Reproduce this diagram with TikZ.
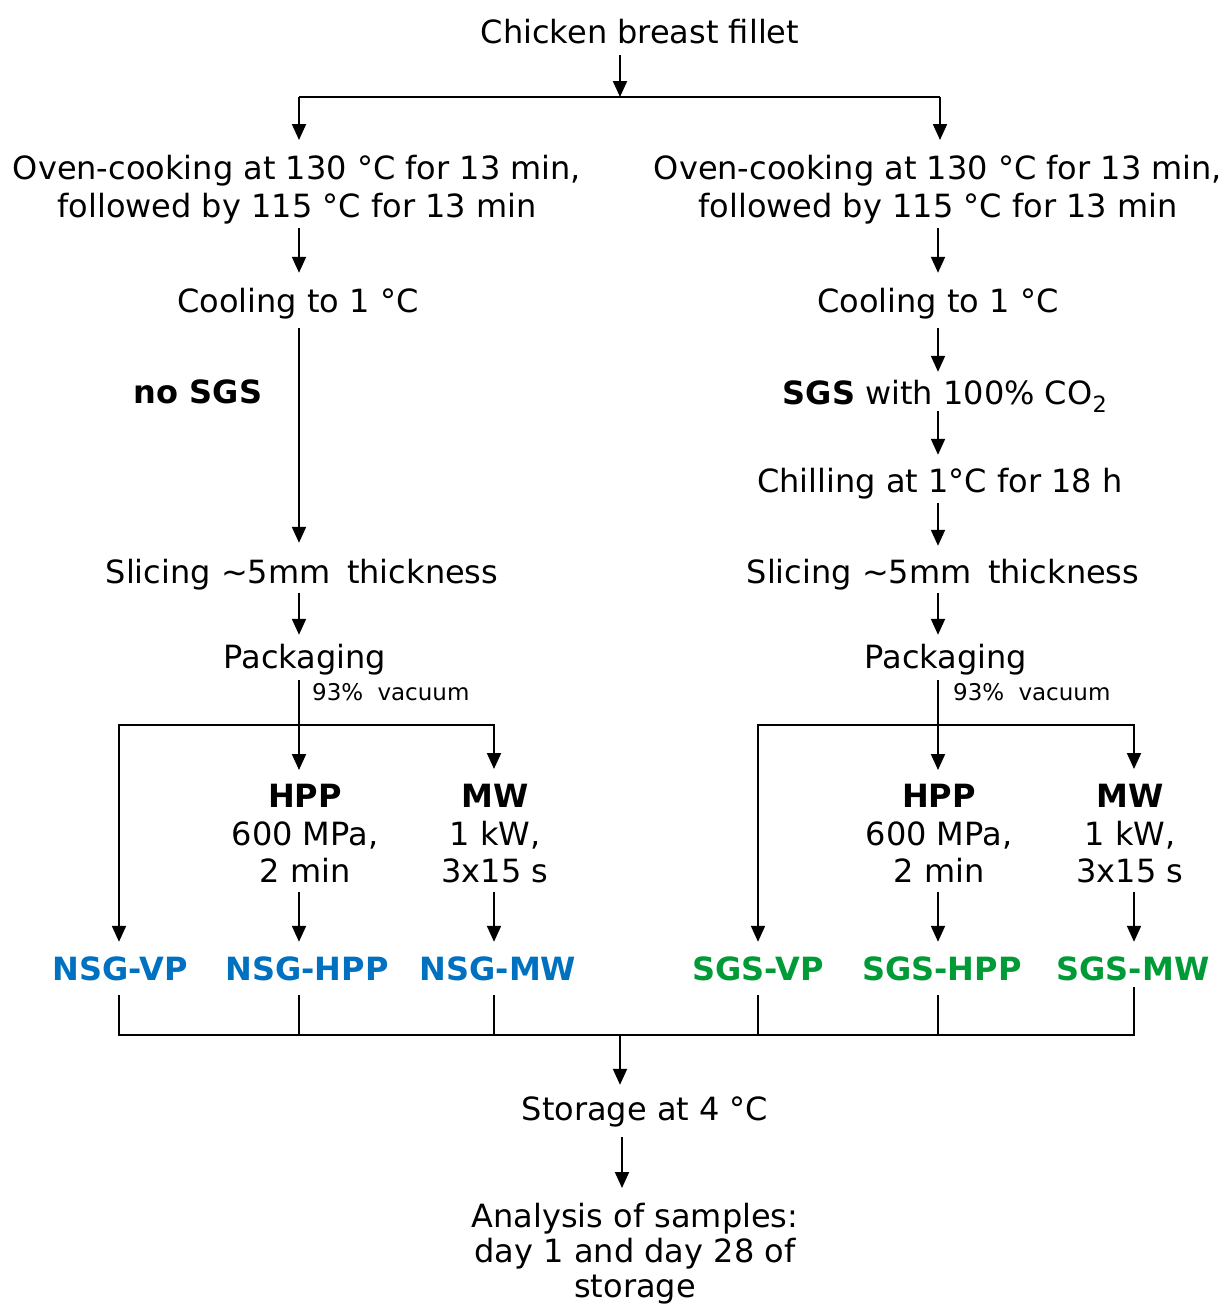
\documentclass[tikz,border=0pt]{standalone}
\usepackage{fontspec}
\setmainfont{DejaVu Sans}
\usetikzlibrary{arrows.meta}
\definecolor{nsgblue}{RGB}{0,112,192}
\definecolor{sgsgreen}{RGB}{0,155,55}
\begin{document}
\begin{tikzpicture}[x=1pt,y=-1pt,
  txt/.style={font=\fontsize{32}{38}\selectfont, inner sep=0pt, align=center},
  one/.style={txt, text height=23pt, text depth=7pt},
  multi/.style={txt, anchor=north, font=\fontsize{32}{37.5}\selectfont},
  small/.style={font=\fontsize{23}{28}\selectfont, inner sep=0pt, anchor=base west},
  lab/.style={one, font=\fontsize{32}{38}\selectfont\bfseries},
  ln/.style={line width=2pt},
  arr/.style={ln, -{Triangle[width=14pt,length=16pt]}, shorten >=14pt, shorten <=5pt},
  dblarr/.style={ln, {Triangle[width=14pt,length=16pt]}-{Triangle[width=14pt,length=16pt]}, shorten >=15pt, shorten <=15pt},
]
\useasboundingbox (0,0) rectangle (1226,1307);

% ---------- nodes ----------
\node[one] (chicken) at (640,35) {Chicken breast fillet};

\node[multi] (ovenL) at (297,155) {Oven-cooking at 130 °C for 13 min,\\followed by 115 °C for 13 min};
\node[multi] (ovenR) at (938,155) {Oven-cooking at 130 °C for 13 min,\\followed by 115 °C for 13 min};

\node[one] (coolL) at (298,304) {Cooling to 1 °C};
\node[one] (coolR) at (938,304) {Cooling to 1 °C};

\node[lab] (noSGS) at (198,395) {no SGS};
\node[one] (sgs) at (945,396) {\textbf{SGS} with 100\% CO\textsubscript{2}};
\node[one] (chill) at (940,484) {Chilling at 1°C for 18 h};

\node[one] (sliceL) at (302,575) {Slicing ∼5mm\hspace{0.2em} thickness};
\node[one] (sliceR) at (943,575) {Slicing ∼5mm\hspace{0.2em} thickness};

\node[one] (packL) at (305,660) {Packaging};
\node[one] (packR) at (946,660) {Packaging};
\node[small] (vacL) at (312,700) {93\%\hspace{0.3em} vacuum};
\node[small] (vacR) at (953,700) {93\%\hspace{0.3em} vacuum};

\node[multi] (hppL) at (305,784) {\textbf{HPP}\\600 MPa,\\2 min};
\node[multi] (mwL) at (495,784) {\textbf{MW}\\1 kW,\\3x15 s};
\node[multi] (hppR) at (939,784) {\textbf{HPP}\\600 MPa,\\2 min};
\node[multi] (mwR) at (1130,784) {\textbf{MW}\\1 kW,\\3x15 s};

\node[lab, text=nsgblue] (nsgvp) at (120,972) {NSG-VP};
\node[lab, text=nsgblue] (nsghpp) at (307,972) {NSG-HPP};
\node[lab, text=nsgblue] (nsgmw) at (498,972) {NSG-MW};
\node[lab, text=sgsgreen] (sgsvp) at (758,972) {SGS-VP};
\node[lab, text=sgsgreen] (sgshpp) at (942,972) {SGS-HPP};
\node[lab, text=sgsgreen] (sgsmw) at (1133,972) {SGS-MW};

\node[one] (storage) at (645,1112) {Storage at 4 °C};
\node[multi, font=\fontsize{32}{35}\selectfont] (analysis) at (635,1203) {Analysis of samples:\\day 1 and day 28 of\\storage};

% ---------- junction coordinates ----------
\coordinate (top) at (620,97);
\coordinate (topL) at (299,97);
\coordinate (topR) at (940,97);
\coordinate (vpL) at (119,725);
\coordinate (mwJL) at (494,725);
\coordinate (vpR) at (758,725);
\coordinate (mwJR) at (1134,725);
\coordinate (c1) at (119,1035);
\coordinate (c2) at (299,1035);
\coordinate (c3) at (494,1035);
\coordinate (c4) at (758,1035);
\coordinate (c5) at (938,1035);
\coordinate (c6) at (1134,1035);
\coordinate (cm) at (620,1035);
\coordinate (sx) at (622,1150);
\coordinate (rx) at (938,0);

% ---------- connectors ----------
\draw[arr, shorten >=0pt] (chicken.south -| top) -- (top);
\draw[ln] (topL) -- (topR);
\draw[arr, shorten <=0pt, shorten >=15pt] (topL) -- (ovenL.north -| topL);
\draw[arr, shorten <=0pt, shorten >=15pt] (topR) -- (ovenR.north -| topR);

% left branch
\draw[arr, shorten <=4pt, shorten >=16pt] (ovenL.south -| topL) -- (coolL.north -| topL);
\draw[arr, shorten <=9pt, shorten >=17pt] (coolL.south -| topL) -- (sliceL.north -| topL);
\draw[arr, shorten <=3pt, shorten >=10pt] (sliceL.south -| topL) -- (packL.north -| topL);
\draw[arr, shorten <=5pt, shorten >=14pt] (packL.south -| topL) -- (hppL.north -| topL);
\draw[dblarr] (nsgvp.north -| vpL) -- (vpL) -- (mwJL) -- (mwL.north -| mwJL);
\draw[arr, shorten <=9pt, shorten >=15pt] (hppL.south -| topL) -- (nsghpp.north -| topL);
\draw[arr, shorten <=9pt, shorten >=15pt] (mwL.south -| mwJL) -- (nsgmw.north -| mwJL);

% right branch
\draw[arr, shorten <=4pt, shorten >=16pt] (ovenR.south -| rx) -- (coolR.north -| rx);
\draw[arr, shorten <=9pt, shorten >=9pt] (coolR.south -| rx) -- (sgs.north -| rx);
\draw[arr, shorten <=0pt, shorten >=14pt] (sgs.south -| rx) -- (chill.north -| rx);
\draw[arr, shorten <=4pt, shorten >=14pt] (chill.south -| rx) -- (sliceR.north -| rx);
\draw[arr, shorten <=3pt, shorten >=10pt] (sliceR.south -| rx) -- (packR.north -| rx);
\draw[arr, shorten <=5pt, shorten >=14pt] (packR.south -| rx) -- (hppR.north -| rx);
\draw[dblarr] (sgsvp.north -| vpR) -- (vpR) -- (mwJR) -- (mwR.north -| mwJR);
\draw[arr, shorten <=9pt, shorten >=15pt] (hppR.south -| rx) -- (sgshpp.north -| rx);
\draw[arr, shorten <=9pt, shorten >=15pt] (mwR.south -| mwJR) -- (sgsmw.north -| mwJR);

% collector
\draw[ln, shorten <=8pt] (nsgvp.south -| c1) -- (c1) -- (c6) -- (sgsmw.south -| c6);
\draw[ln, shorten <=8pt] (nsghpp.south -| c2) -- (c2);
\draw[ln, shorten <=8pt] (nsgmw.south -| c3) -- (c3);
\draw[ln, shorten <=8pt] (sgsvp.south -| c4) -- (c4);
\draw[ln, shorten <=8pt] (sgshpp.south -| c5) -- (c5);
\draw[arr, shorten <=0pt, shorten >=12pt] (cm) -- (storage.north -| cm);
\draw[arr, shorten <=10pt, shorten >=15pt] (storage.south -| sx) -- (analysis.north -| sx);
\end{tikzpicture}
\end{document}
